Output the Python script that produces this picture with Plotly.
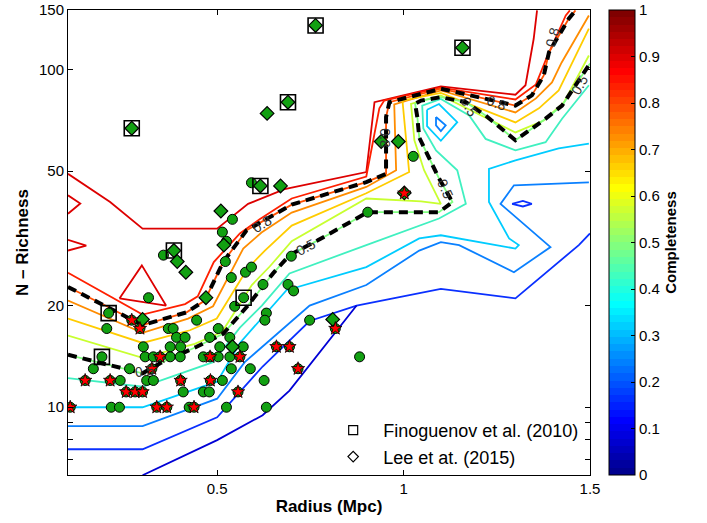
import numpy as np
import plotly.graph_objects as go

FONT = "Liberation Sans, Arial, sans-serif"

# ---------------- data ----------------
# green circles (all clusters)
circle_radius = [1.026, 0.592, 0.541, 0.514, 0.525, 0.522, 0.538, 0.576, 0.592, 0.356,
                 0.316, 0.209, 0.204, 0.445, 0.369, 0.382, 0.503, 0.391, 0.414, 0.480,
                 0.534, 0.302, 0.374, 0.402, 0.507, 0.570, 0.623, 0.699, 0.904, 0.571,
                 0.547, 0.690, 0.705, 0.632, 0.628, 0.748, 0.882,
                 0.191, 0.307, 0.329, 0.374, 0.401, 0.463, 0.503, 0.534,
                 0.168, 0.265, 0.538, 0.589,
                 0.240, 0.311, 0.329, 0.514, 0.626,
                 0.409, 0.463, 0.479,
                 0.216, 0.238, 0.425, 0.525, 0.632]
circle_richness = [55.3, 46.2, 36.0, 33.0, 31.0, 27.0, 24.2, 25.1, 26.0, 28.2,
                   21.1, 19.0, 17.1, 18.1, 17.1, 17.1, 17.1, 16.1, 16.1, 16.1,
                   16.1, 15.1, 15.1, 15.1, 15.1, 15.1, 23.1, 28.0, 37.8, 21.1,
                   19.9, 23.1, 22.1, 19.0, 18.1, 18.1, 14.1,
                   14.1, 14.1, 14.1, 14.1, 14.1, 14.1, 14.1, 14.1,
                   13.0, 13.0, 13.0, 13.0,
                   12.0, 12.0, 12.0, 12.0, 12.0,
                   11.1, 11.1, 11.1,
                   10.0, 10.0, 10.0, 10.0, 10.0]

# red stars
star_radius = [0.271, 0.293, 0.347, 0.481, 0.561, 0.325, 0.717, 0.146, 0.213, 0.402,
               0.482, 0.256, 0.280, 0.300, 0.556, 0.106, 0.338, 0.365, 0.438, 0.659,
               0.694, 0.817, 1.002]
star_richness = [18.1, 17.1, 14.1, 14.1, 14.1, 13.0, 13.0, 12.0, 12.0, 12.0,
                 12.0, 11.1, 11.1, 11.1, 11.1, 10.0, 10.0, 10.0, 10.0, 15.1,
                 15.1, 17.1, 43.0]

# Lee et al. (2015) diamonds
lee_radius = [0.271, 0.764, 1.158, 0.690, 0.634, 0.940, 0.986, 0.616, 0.670, 1.002,
              0.510, 0.518, 0.384, 0.393, 0.416, 0.470, 0.300, 0.541, 0.810]
lee_richness = [67.0, 135.0, 116.0, 80.0, 74.1, 61.2, 61.2, 45.2, 45.2, 43.1,
                38.1, 30.2, 29.1, 27.0, 25.1, 21.1, 18.2, 15.1, 18.2]

# Finoguenov et al. (2010) squares
fino_radius = [0.271, 0.764, 1.158, 0.690, 0.616, 0.384, 0.209, 0.191, 0.571]
fino_richness = [67.0, 135.0, 116.0, 80.0, 45.2, 29.1, 19.0, 14.1, 21.1]

# completeness contour lines (radius, richness)
c95_radius = [0.10, 0.213, 0.30, 0.50, 0.583, 0.681, 0.90, 0.922, 1.10, 1.30, 1.327, 1.349, 1.358]
c95_richness = [49.1, 40.5, 33.8, 33.8, 40.0, 44.2, 49.7, 80.0, 89.1, 84.2, 89.8, 123.3, 149.6]
c95b_radius = [0.10, 0.133, 0.10]
c95b_richness = [42.4, 40.1, 37.4]
c95c_radius = [0.10, 0.149, 0.10]
c95c_richness = [31.3, 30.1, 29.1]
c95d_radius = [0.238, 0.298, 0.363, 0.238]
c95d_richness = [21.0, 26.3, 20.0, 21.0]

c85_radius = [0.10, 0.30, 0.414, 0.448, 0.491, 0.561, 0.614, 0.70, 0.90, 0.935, 0.948,
              1.10, 1.30, 1.355, 1.384, 1.435, 1.446]
c85_richness = [25.0, 18.8, 20.2, 21.3, 26.9, 32.7, 36.0, 41.5, 48.2, 76.7, 80.9,
                88.3, 81.5, 90.3, 108.5, 144.5, 149.6]

c80_radius = [0.10, 0.20, 0.30, 0.418, 0.467, 0.516, 0.579, 0.70, 0.90, 0.953, 0.953, 0.962,
              1.10, 1.30, 1.344, 1.376, 1.390, 1.443, 1.461]
c80_richness = [22.7, 20.0, 17.5, 19.1, 20.7, 26.9, 33.4, 39.8, 46.4, 49.1, 72.3, 80.0,
                87.7, 78.2, 83.8, 96.0, 112.5, 141.3, 149.6]

c75_radius = [0.10, 0.30, 0.422, 0.489, 0.570, 0.619, 0.70, 0.90, 0.980, 0.975, 1.10,
              1.30, 1.355, 1.398, 1.424, 1.497]
c75_richness = [20.7, 16.6, 18.3, 19.9, 29.5, 32.9, 37.7, 44.9, 50.3, 78.8, 86.7,
                74.6, 82.1, 91.5, 104.9, 144.5]

c65_radius = [0.10, 0.30, 0.427, 0.499, 0.582, 0.628, 0.70, 0.90, 1.015, 0.997, 1.10,
              1.30, 1.363, 1.416, 1.497]
c65_richness = [18.3, 15.5, 16.9, 18.3, 25.8, 29.1, 34.5, 43.0, 49.7, 80.9, 85.2,
                69.7, 76.7, 86.7, 132.2]

c55_radius = [0.10, 0.30, 0.440, 0.513, 0.593, 0.641, 0.70, 0.90, 1.047, 1.10, 1.055,
              1.029, 1.020, 1.10, 1.30, 1.376, 1.430, 1.497]
c55_richness = [16.3, 14.0, 15.4, 16.7, 23.0, 26.1, 31.0, 41.5, 40.7, 40.0, 50.3,
                61.7, 79.1, 83.8, 65.1, 70.6, 79.9, 110.0]

c50_radius = [0.10, 0.213, 0.30, 0.347, 0.445, 0.516, 0.579, 0.650, 0.694, 0.770, 0.828,
              0.904, 1.095, 1.131, 1.095, 1.069, 1.042, 1.037, 1.031, 1.047, 1.10, 1.167,
              1.220, 1.30, 1.381, 1.425, 1.492, 1.50]
c50_richness = [14.3, 13.3, 12.6, 13.5, 15.1, 16.5, 19.8, 24.9, 28.2, 31.2, 33.8,
                37.8, 37.8, 40.5, 47.6, 54.6, 62.9, 72.1, 79.1, 80.9, 82.8, 80.0,
                73.1, 61.7, 71.5, 78.2, 101.6, 104.2]

c45_radius = [0.10, 0.30, 0.489, 0.561, 0.620, 0.694, 0.90, 1.095, 1.167, 1.144, 1.087,
              1.053, 1.050, 1.10, 1.176, 1.220, 1.30, 1.381, 1.425, 1.497]
c45_richness = [12.2, 11.5, 13.6, 17.2, 20.0, 24.9, 30.2, 36.2, 40.0, 50.3, 57.6,
                66.9, 78.2, 81.8, 73.1, 62.3, 57.6, 60.9, 71.5, 89.8]

c35_radius = [0.10, 0.30, 0.50, 0.561, 0.686, 0.90, 1.042, 1.10, 1.30, 1.309, 1.283,
              1.229, 1.229, 1.30, 1.416, 1.497]
c35_richness = [10.0, 10.0, 11.9, 15.5, 22.2, 26.0, 31.6, 32.3, 29.5, 30.2, 31.6,
                40.5, 50.8, 53.8, 58.4, 60.3]
c35b_radius = [1.063, 1.095, 1.144, 1.100, 1.063, 1.063]
c35b_richness = [76.0, 79.0, 69.8, 61.5, 68.0, 76.0]

c25_radius = [0.10, 0.30, 0.50, 0.574, 0.748, 0.90, 1.042, 1.10, 1.149, 1.296, 1.394,
              1.260, 1.296, 1.497]
c25_richness = [8.79, 8.79, 10.6, 13.6, 20.0, 23.0, 29.1, 30.8, 30.2, 25.1, 29.8,
                40.0, 45.4, 46.3]
c25b_radius = [1.087, 1.113, 1.100, 1.087, 1.087]
c25b_richness = [72.3, 68.3, 65.7, 68.3, 72.3]

c15_radius = [0.10, 0.30, 0.50, 0.622, 0.748, 0.874, 1.10, 1.30, 1.470, 1.50]
c15_richness = [7.51, 7.51, 9.34, 13.2, 18.0, 20.0, 22.4, 21.0, 30.2, 32.7]
c15b_radius = [1.291, 1.320, 1.344, 1.320, 1.291]
c15b_richness = [40.0, 40.8, 40.0, 39.3, 40.0]

c05_radius = [0.30, 0.50, 0.622, 0.694, 0.874]
c05_richness = [6.29, 7.99, 9.47, 11.2, 20.0]

completeness_ticks = [0, 0.1, 0.2, 0.3, 0.4, 0.5, 0.6, 0.7, 0.8, 0.9, 1]
richness_ticks = [7, 8, 9, 10, 20, 50, 100, 150]
richness_ticktext = ["", "", "", "10", "20", "50", "100", "150"]
radius_ticks = [0.5, 1, 1.5]


# ---------------- colormap ----------------
def matlab_jet(n=64):
    m = int(np.ceil(n / 4))
    u = np.concatenate([np.arange(1, m + 1) / m, np.ones(m - 1), np.arange(m, 0, -1) / m])
    g = int(np.ceil(m / 2)) - (1 if n % 4 == 1 else 0) + np.arange(1, len(u) + 1)
    r = g + m
    b = g - m
    J = np.zeros((n, 3))
    for arr, col in ((r, 0), (g, 1), (b, 2)):
        mask = (arr >= 1) & (arr <= n)
        J[arr[mask] - 1, col] = u[mask]
    return J


JET = matlab_jet(64)


def rgb(c):
    return "rgb(%d,%d,%d)" % tuple(int(round(v * 255)) for v in c)


colorscale = []
for i in range(64):
    c = rgb(JET[i])
    colorscale.append([i / 64, c])
    colorscale.append([(i + 1) / 64, c])

LINE_COLORS = {0.95: "#dd0000", 0.85: "#ff2000", 0.80: "#ff5000", 0.75: "#ff8c00",
               0.65: "#ffcc00", 0.55: "#c8ff30", 0.50: "#80ff80", 0.45: "#40f0c0",
               0.35: "#00ccff", 0.25: "#0a80ff", 0.15: "#0a30ff", 0.05: "#0000d5"}

fig = go.Figure()

line_sets = [
    (c95_radius, c95_richness, 0.95), (c95b_radius, c95b_richness, 0.95),
    (c95c_radius, c95c_richness, 0.95), (c95d_radius, c95d_richness, 0.95),
    (c85_radius, c85_richness, 0.85), (c80_radius, c80_richness, 0.80),
    (c75_radius, c75_richness, 0.75), (c65_radius, c65_richness, 0.65),
    (c55_radius, c55_richness, 0.55), (c50_radius, c50_richness, 0.50),
    (c45_radius, c45_richness, 0.45), (c35_radius, c35_richness, 0.35),
    (c35b_radius, c35b_richness, 0.35), (c25_radius, c25_richness, 0.25),
    (c25b_radius, c25b_richness, 0.25), (c15_radius, c15_richness, 0.15),
    (c15b_radius, c15b_richness, 0.15), (c05_radius, c05_richness, 0.05),
]
for rr, nn, lv in line_sets:
    fig.add_trace(go.Scatter(x=rr, y=nn, mode="lines", showlegend=False, hoverinfo="skip",
                             line=dict(color=LINE_COLORS[lv], width=1.8)))

for rr, nn in ((c80_radius, c80_richness), (c50_radius, c50_richness)):
    fig.add_trace(go.Scatter(x=rr, y=nn, mode="lines", showlegend=False, hoverinfo="skip",
                             line=dict(color="black", width=4, dash="9px,6px")))

# markers
fig.add_trace(go.Scatter(x=circle_radius + star_radius[:-1], y=circle_richness + star_richness[:-1],
                         mode="markers", showlegend=False,
                         marker=dict(symbol="circle", size=10, color="#12a012",
                                     line=dict(color="black", width=1))))
fig.add_trace(go.Scatter(x=fino_radius, y=fino_richness, mode="markers", showlegend=False,
                         marker=dict(symbol="square-open", size=15, color="black",
                                     line=dict(color="black", width=1.6))))
fig.add_trace(go.Scatter(x=lee_radius, y=lee_richness, mode="markers", showlegend=False,
                         marker=dict(symbol="diamond", size=10.5, color="#12a012",
                                     line=dict(color="black", width=1.2))))
fig.add_trace(go.Scatter(x=star_radius, y=star_richness, mode="markers", showlegend=False,
                         marker=dict(symbol="star", size=10, color="#ff0000",
                                     line=dict(color="black", width=0.8))))

# legend entries
fig.add_trace(go.Scatter(x=[None], y=[None], mode="markers",
                         name="\u00a0\u00a0Finoguenov et al. (2010)",
                         marker=dict(symbol="square-open", size=9, color="black",
                                     line=dict(color="black", width=1.2))))
fig.add_trace(go.Scatter(x=[None], y=[None], mode="markers",
                         name="\u00a0\u00a0Lee et at. (2015)",
                         marker=dict(symbol="diamond-open", size=8, color="black",
                                     line=dict(color="black", width=1.2))))

# colorbar
fig.add_trace(go.Scatter(
    x=[None], y=[None], mode="markers", showlegend=False, hoverinfo="skip",
    marker=dict(color=[0.5], cmin=0, cmax=1, colorscale=colorscale, showscale=True,
                colorbar=dict(x=1.0364, xanchor="left", xpad=0, y=0.5, yanchor="middle",
                              len=1, lenmode="fraction", ypad=0,
                              thickness=26, thicknessmode="pixels",
                              outlinecolor="black", outlinewidth=1,
                              ticks="inside", ticklen=4, tickcolor="black",
                              tickvals=completeness_ticks,
                              ticktext=[("%g" % t) for t in completeness_ticks],
                              tickfont=dict(size=15, family=FONT, color="black"),
                              title=dict(text="<b>Completeness</b>", side="right",
                                         font=dict(size=15, family=FONT, color="black"))))))

# contour labels
labels = [("0.8", 0.620, 34.96, -32), ("0.5", 0.739, 29.8, -28), ("0.5", 0.307, 12.8, -8),
          ("0.8", 0.948, 62.5, 90), ("0.5", 1.176, 77.3, 60), ("0.8", 1.250, 79.6, 20),
          ("0.5", 1.113, 44.4, 65), ("0.5", 1.472, 89.8, -60), ("0.8", 1.400, 124.5, -75)]
for txt, lx, ly, ang in labels:
    fig.add_annotation(x=lx, y=np.log10(ly), text=txt, showarrow=False, textangle=ang,
                       font=dict(size=14, family=FONT, color="#333333"))

fig.update_layout(
    width=707, height=523,
    margin=dict(l=68, r=117, t=10, b=48),
    paper_bgcolor="white", plot_bgcolor="white",
    font=dict(family=FONT, size=15, color="black"),
    showlegend=True,
    legend=dict(x=0.508, y=0.0, xanchor="left", yanchor="bottom",
                bgcolor="rgba(0,0,0,0)", font=dict(size=18, family=FONT),
                itemwidth=30, tracegroupgap=0),
    xaxis=dict(range=[0.1, 1.5], tickvals=radius_ticks, ticktext=["0.5", "1", "1.5"],
               ticks="inside", ticklen=5, tickcolor="black", showline=True,
               linecolor="black", linewidth=1, mirror="ticks", showgrid=False,
               zeroline=False, tickfont=dict(size=15), automargin=False,
               title=dict(text="<b>Radius (Mpc)</b>", font=dict(size=17), standoff=4)),
    yaxis=dict(type="log", range=[np.log10(6.3), np.log10(150)],
               tickvals=richness_ticks, ticktext=richness_ticktext,
               ticks="inside", ticklen=5, tickcolor="black", showline=True,
               linecolor="black", linewidth=1, mirror="ticks", showgrid=False,
               zeroline=False, tickfont=dict(size=15), automargin=False,
               title=dict(text="<b>N – Richness</b>", font=dict(size=17), standoff=6)),
)

fig.write_html("out.html", config={"displayModeBar": False},
               post_script="document.body.style.margin='0';document.body.style.padding='0';")
